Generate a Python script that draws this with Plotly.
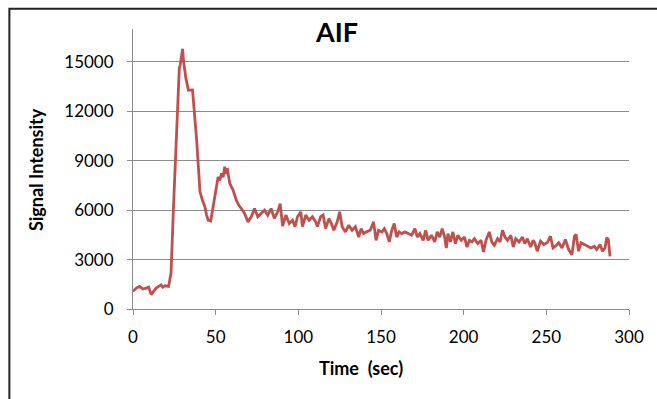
import plotly.graph_objects as go

time_sec = [0, 2, 4, 6, 8, 9.5, 11, 12.5, 14, 15.5, 17, 18, 19.5, 21.5,
            23, 24.5, 26.5, 28, 28.5, 30, 30.5, 32, 33.5, 36, 38.5, 40.5, 42, 43.5, 44.5, 45.5, 47,
            48.5, 50.5, 51.5, 52.5, 53.5, 54.5, 55.5, 56, 57, 58.5, 60.5, 62.5, 64, 65.5, 67.5, 69.5,
            71.5, 73.5, 75.5, 77.5, 79.5, 81.5, 83.5, 85.5, 87.5, 89, 90.5, 92.5, 94.5, 96.5, 98,
            99.5, 101.5, 102.5, 104.5, 106.5, 108.5, 110.5, 111.5, 113.5, 115, 116.5, 118.5, 120,
            121.5, 123.5, 125, 126.5, 128.5, 130.5, 132.5, 134.5, 136.5, 138, 139.5, 141.5, 143.5,
            145.5, 147, 148.5, 150.5, 152, 153.5, 155, 156.5, 158, 159.5, 161, 162.5, 164.5, 166.5,
            168.5, 170.5, 172, 173.5, 175.5, 177, 178.5, 180.5, 182.5, 184, 185.5, 187, 188.5, 189.5,
            190.5, 192, 193.5, 195, 196.5, 198.5, 200.5, 202, 203.5, 205, 206.5, 208.5, 210.5, 212,
            213.5, 215.5, 217, 218.5, 220.5, 222, 223.5, 225, 226.5, 228.5, 230, 231.5, 233.5, 235.5,
            237, 238.5, 240.5, 242, 243, 244.5, 246.5, 248.5, 250.5, 252.5, 254, 255.5, 257.5, 259.5,
            261.5, 263.5, 265.5, 267, 268, 269.5, 271, 273, 275, 277, 279, 280.5, 282.5, 284, 285.5,
            286.5, 287.5, 288.5]

signal = [1070, 1270, 1370, 1210, 1270, 1330, 870, 1070, 1270, 1370, 1470, 1330, 1410, 1370,
          2180, 6220, 11270, 14600, 14800, 15800, 15100, 14000, 13280, 13300, 10260, 7130, 6600, 6200, 5700, 5390, 5350,
          6300, 7420, 8030, 7800, 8240, 8000, 8640, 8200, 8540, 7630, 7220, 6610, 6300, 6100, 5800, 5290,
          5600, 6100, 5600, 5800, 6000, 5700, 6100, 5500, 5900, 6400, 5040, 5700, 5190, 5390, 5000,
          5600, 5900, 5000, 5700, 5390, 5600, 5290, 5000, 5600, 5700, 4880, 5490, 5190,
          4780, 5290, 5900, 5000, 4680, 5090, 4780, 5000, 4370, 4880, 4580, 4700, 4780,
          5290, 4170, 4780, 4680, 4880, 4580, 4070, 4780, 5190, 4370, 4680, 4580, 4680, 4580,
          4480, 4880, 4370, 4580, 4170, 4780, 4170, 4480, 4070, 4680, 4370, 4880, 4370, 3700,
          4580, 4070, 4680, 3970, 4480, 4170, 4370, 3760, 4170, 4070, 4270, 3970, 4170, 3460,
          4170, 4680, 4070, 3870, 4270, 4070, 4780, 4370, 4170, 4480, 3760, 4270, 4070, 4370,
          3970, 4270, 3760, 4170, 4020, 3510, 4120, 3920, 4020, 4420, 3710, 3810, 4020, 3710,
          4220, 3610, 3300, 4420, 4520, 3510, 4020, 3920, 3810, 3710, 3810, 3610, 3920, 3510, 3710,
          4320, 4220, 3200]

y_ticks = [0, 3000, 6000, 9000, 12000, 15000]
x_ticks = [0, 50, 100, 150, 200, 250, 300]

W, H = 657, 399
L, R, T, B = 132.7, 629.0, 29.3, 309.3
pw, ph = R - L, B - T

def px_x(p):
    return (p - L) / pw

def px_y(p):
    return (B - p) / ph

fig = go.Figure()
fig.add_trace(go.Scatter(x=time_sec, y=signal, mode="lines",
                         line=dict(color="#C0504D", width=2.8), showlegend=False))

font_family = "Lato, Open Sans, Liberation Sans, sans-serif"

fig.update_layout(
    width=W, height=H,
    margin=dict(l=L, r=W - R, t=T, b=H - B, pad=0),
    paper_bgcolor="white", plot_bgcolor="white",
    font=dict(family=font_family, color="#000000", size=16),
    xaxis=dict(range=[0, 300], tickvals=x_ticks, ticktext=[str(v) for v in x_ticks],
               showgrid=False, zeroline=False, showline=True, linecolor="#8c8c8c", linewidth=1,
               ticks="outside", ticklen=5, tickcolor="#8c8c8c", tickfont=dict(size=17),
               ticklabelstandoff=8),
    yaxis=dict(range=[0, 17000], tickvals=y_ticks, ticktext=[str(v) for v in y_ticks],
               showgrid=True, gridcolor="#8c8c8c", gridwidth=1, zeroline=False,
               showline=True, linecolor="#8c8c8c", linewidth=1,
               ticks="outside", ticklen=5, tickcolor="#8c8c8c", tickfont=dict(size=17),
               ticklabelstandoff=10),
)

fig.add_annotation(text="<b>AIF</b>", xref="paper", yref="paper",
                   x=px_x(336), y=px_y(32), xanchor="center", yanchor="middle",
                   showarrow=False, font=dict(size=27, family=font_family, color="#000000"))

fig.add_annotation(text="<b>Time  (sec)</b>", xref="paper", yref="paper",
                   x=px_x(361), y=px_y(368), xanchor="center", yanchor="middle",
                   showarrow=False, font=dict(size=18, family=font_family, color="#000000"))

fig.add_annotation(text="<b>Signal Intensity</b>", xref="paper", yref="paper",
                   x=px_x(35), y=px_y(170), xanchor="center", yanchor="middle", textangle=-90,
                   showarrow=False, font=dict(size=18, family=font_family, color="#000000"))

fig.add_shape(type="rect", xref="paper", yref="paper",
              x0=px_x(9), x1=px_x(W + 5), y0=px_y(9), y1=px_y(H + 5),
              line=dict(color="#222222", width=2), fillcolor="rgba(0,0,0,0)", layer="above")

fig.write_html("out.html")
